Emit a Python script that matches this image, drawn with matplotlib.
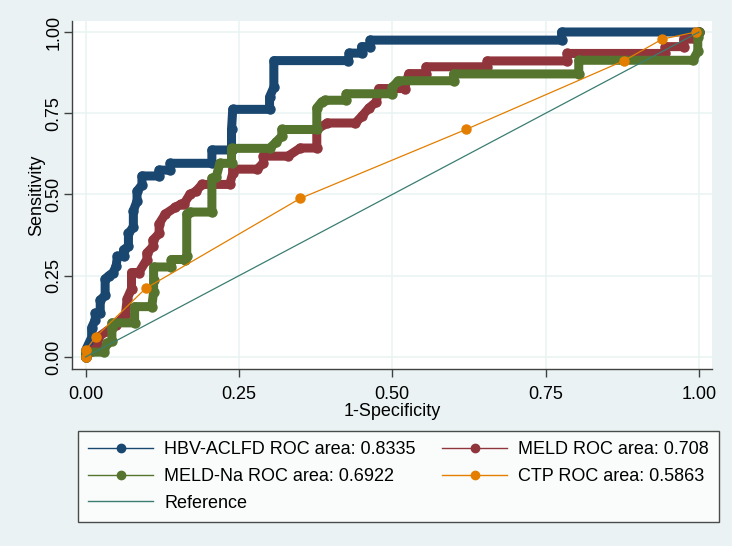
import matplotlib
matplotlib.use("Agg")
import matplotlib.pyplot as plt
from matplotlib.lines import Line2D

# ---------------- data ----------------
hbv_fpr = [0, 0, 0.005, 0.010, 0.010, 0.016, 0.016, 0.024, 0.024, 0.032,
           0.032, 0.038, 0.045, 0.050, 0.052, 0.062, 0.062, 0.070, 0.070, 0.078,
           0.078, 0.084, 0.084, 0.092, 0.092, 0.120, 0.120, 0.138, 0.138, 0.206,
           0.206, 0.238, 0.238, 0.240, 0.300, 0.300, 0.307, 0.307, 0.428, 0.430,
           0.450, 0.450, 0.464, 0.464, 0.776, 0.776, 1.000]
hbv_tpr = [0, 0.02, 0.04, 0.06, 0.09, 0.115, 0.135, 0.135, 0.175, 0.19,
           0.24, 0.25, 0.26, 0.28, 0.31, 0.31, 0.33, 0.34, 0.38, 0.40,
           0.45, 0.48, 0.51, 0.53, 0.557, 0.557, 0.575, 0.575, 0.596, 0.596,
           0.637, 0.637, 0.70, 0.762, 0.762, 0.80, 0.83, 0.912, 0.912, 0.935,
           0.935, 0.955, 0.955, 0.975, 0.975, 1.0, 1.0]

meld_fpr = [0, 0.010, 0.020, 0.020, 0.035, 0.050, 0.065, 0.068, 0.075, 0.075,
            0.087, 0.100, 0.100, 0.110, 0.110, 0.120, 0.120, 0.130, 0.146, 0.155,
            0.160, 0.170, 0.180, 0.190, 0.235, 0.240, 0.240, 0.280, 0.290, 0.290,
            0.330, 0.350, 0.377, 0.377, 0.394, 0.440, 0.450, 0.462, 0.474, 0.478,
            0.520, 0.527, 0.555, 0.555, 0.655, 0.655, 0.785, 0.785, 0.945, 0.945,
            0.975, 0.975, 0.995, 1.000]
meld_tpr = [0, 0.02, 0.03, 0.06, 0.08, 0.10, 0.13, 0.18, 0.21, 0.26,
            0.26, 0.30, 0.32, 0.34, 0.36, 0.38, 0.41, 0.44, 0.46, 0.47,
            0.47, 0.50, 0.51, 0.531, 0.531, 0.565, 0.578, 0.578, 0.597, 0.618,
            0.618, 0.643, 0.643, 0.70, 0.72, 0.72, 0.74, 0.766, 0.785, 0.826,
            0.826, 0.872, 0.872, 0.893, 0.893, 0.911, 0.911, 0.934, 0.934, 0.955,
            0.955, 0.978, 0.978, 1.0]

meldna_fpr = [0, 0, 0.030, 0.035, 0.043, 0.043, 0.043, 0.080, 0.080, 0.108,
              0.111, 0.111, 0.111, 0.140, 0.140, 0.162, 0.165, 0.165, 0.170, 0.206,
              0.206, 0.213, 0.219, 0.238, 0.238, 0.300, 0.310, 0.320, 0.320, 0.377,
              0.377, 0.385, 0.390, 0.425, 0.425, 0.500, 0.500, 0.510, 0.600, 0.600,
              0.804, 0.804, 0.990, 0.998, 0.998, 1.000]
meldna_tpr = [0, 0.015, 0.015, 0.043, 0.05, 0.09, 0.105, 0.105, 0.155, 0.155,
              0.20, 0.237, 0.277, 0.277, 0.30, 0.30, 0.31, 0.44, 0.446, 0.446,
              0.55, 0.554, 0.596, 0.596, 0.642, 0.642, 0.66, 0.68, 0.70, 0.70,
              0.766, 0.785, 0.79, 0.79, 0.81, 0.81, 0.83, 0.85, 0.85, 0.871,
              0.871, 0.913, 0.913, 0.94, 0.985, 1.0]

ctp_fpr = [0, 0, 0.017, 0.098, 0.350, 0.620, 0.878, 0.940, 0.995]
ctp_tpr = [0, 0.021, 0.0625, 0.211, 0.488, 0.700, 0.912, 0.978, 1.000]

ref_x = [0, 1]
ref_y = [0, 1]

labels = ["HBV-ACLFD ROC area: 0.8335", "MELD ROC area: 0.708",
          "MELD-Na ROC area: 0.6922", "CTP ROC area: 0.5863", "Reference"]
x_ticks = [0.00, 0.25, 0.50, 0.75, 1.00]
y_ticks = [0.00, 0.25, 0.50, 0.75, 1.00]
tick_labels = ["0.00", "0.25", "0.50", "0.75", "1.00"]

# ---------------- style ----------------
plt.rcParams['font.family'] = ['Liberation Sans', 'DejaVu Sans']
BG = "#EAF2F3"
C_HBV = "#1A476F"
C_MELD = "#90353B"
C_NA = "#55752F"
C_CTP = "#E37E00"
C_REF = "#3A7D70"

fig = plt.figure(figsize=(7.32, 5.46), dpi=100, facecolor=BG)
ax = fig.add_axes([72/732, 1-369/546, (712-72)/732, (369-21)/546])
ax.set_facecolor("white")

band = 6.5
for fx, ty, c in [(hbv_fpr, hbv_tpr, C_HBV), (meld_fpr, meld_tpr, C_MELD),
                  (meldna_fpr, meldna_tpr, C_NA)]:
    ax.plot(fx, ty, color=c, lw=band, solid_capstyle='round',
            solid_joinstyle='round', marker='o', ms=band, zorder=3)

ax.plot(ctp_fpr, ctp_tpr, color=C_CTP, lw=0.9, marker='o', ms=6.5, zorder=4)
ax.plot(ref_x, ref_y, color=C_REF, lw=0.9, zorder=5)

ax.set_xlim((72-85.5)/613.5, (712-85.5)/613.5)
ax.set_ylim((357-369)/325, (357-21)/325)

ax.set_xticks(x_ticks)
ax.set_xticklabels(tick_labels)
ax.set_yticks(y_ticks)
ax.set_yticklabels(tick_labels, rotation=90, va='center')
ax.tick_params(axis='both', labelsize=13, direction='out', length=6,
               width=1, color='#404040')
ax.tick_params(axis='x', pad=6)
ax.tick_params(axis='y', pad=1)
ax.grid(True, color=BG, lw=1.1, zorder=0)
ax.set_axisbelow(True)
for s in ['top', 'right']:
    ax.spines[s].set_visible(False)
for s in ['left', 'bottom']:
    ax.spines[s].set_color('#404040')
    ax.spines[s].set_linewidth(1)

ax.set_xlabel("1-Specificity", fontsize=13, labelpad=0)
ax.set_ylabel("Sensitivity", fontsize=13, labelpad=0)

# legend
h_hbv = Line2D([], [], color=C_HBV, lw=1, marker='o', ms=6)
h_meld = Line2D([], [], color=C_MELD, lw=1, marker='o', ms=6)
h_na = Line2D([], [], color=C_NA, lw=1, marker='o', ms=6)
h_ctp = Line2D([], [], color=C_CTP, lw=1, marker='o', ms=6)
h_ref = Line2D([], [], color=C_REF, lw=1)
handles = [h_hbv, h_na, h_ref, h_meld, h_ctp]
labs = [labels[0], labels[2], labels[4], labels[1], labels[3]]
x0, x1 = 78/732, 719/732
y0, y1 = 1-519/546, 1-431/546
leg = fig.legend(handles, labs, ncol=2, loc='upper left',
                 bbox_to_anchor=(x0, y0, x1-x0, y1-y0), mode='expand',
                 fontsize=13, frameon=True, fancybox=False,
                 handlelength=3.6, handletextpad=0.6, columnspacing=0.0,
                 labelspacing=0.54, borderpad=0.57, borderaxespad=0.0)
leg.get_frame().set_edgecolor('#202020')
leg.get_frame().set_linewidth(1.0)

fig.savefig("out.png", dpi=100, facecolor=BG)
